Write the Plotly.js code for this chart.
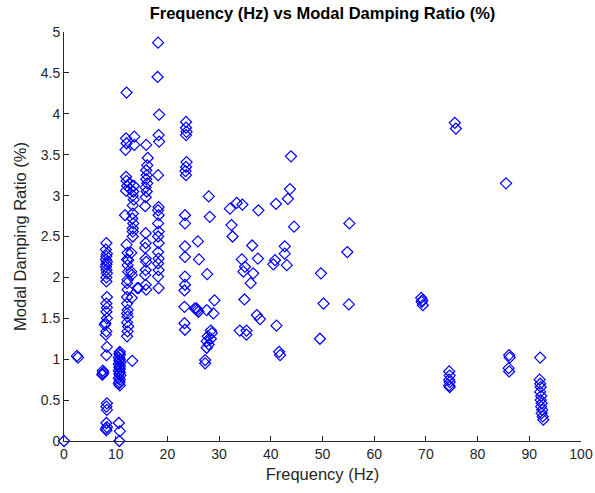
<!DOCTYPE html>
<html>
<head>
<meta charset="utf-8">
<script src="https://cdn.plot.ly/plotly-3.0.1.min.js"></script>
<style>html,body{margin:0;padding:0;background:#fff;}#chart{width:595px;height:493px;}</style>
</head>
<body>
<div id="chart"></div>
<script>
// Frequency (Hz)
const frequency = [
  0,
  2.5, 2.7,
  8.2, 8.1, 8.3, 8.2, 8.1, 8.3, 8.2, 8.1, 8.2, 8.3, 8.2, 8.2, 8.3, 8.2, 8.3, 8.2, 8.3, 8.0, 7.9, 8.2, 8.1, 8.3, 8.2, 7.5, 7.6, 7.5, 7.4, 8.3, 8.2, 8.3, 8.2, 8.3, 8.1, 8.2,
  10.8, 10.7, 10.8, 10.6, 10.8, 10.7, 10.9, 10.6, 10.8, 10.7, 10.8, 10.6, 10.8, 10.7, 10.9, 10.6, 10.8, 10.7, 10.6, 10.8, 10.6, 10.8, 10.7,
  12.1, 12.0, 12.1, 11.9, 12.0, 12.1, 12.2, 12.0, 11.8, 12.1, 12.3, 12.2, 12.3, 12.4, 12.4, 12.3, 12.2, 12.3, 12.2, 12.2, 12.3, 12.2, 12.3, 12.2, 12.4, 12.3, 12.2,
  13.6, 13.6, 12.7, 12.8, 13.5, 13.4, 13.3, 13.5, 13.3, 13.3, 13.2, 13.4, 13.3, 13.3, 13.3, 13.0, 13.0, 13.1, 13.1, 13.2,
  14.4, 14.2,
  15.9, 16.2, 16.1, 15.9, 16.0, 15.9, 16.1, 15.8, 16.0, 15.8, 15.7, 15.8, 15.8, 15.7, 15.8, 15.9, 15.8, 15.7, 15.8, 15.9,
  18.2, 18.1, 18.4, 18.3, 18.4, 18.2, 18.3, 18.2, 18.3, 18.2, 18.3, 18.2, 18.3, 18.2, 18.3, 18.2, 18.3, 18.2, 18.3,
  23.6, 23.6, 23.7, 23.6, 23.7, 23.6, 23.5, 23.6, 23.4, 23.4, 23.4, 23.4, 23.4, 23.4, 23.3, 23.3, 23.3, 23.4,
  25.9, 26.1, 25.3, 25.6, 25.8, 26.0,
  28.0, 28.2, 27.7, 29.1, 27.6, 28.9, 28.4, 28.6, 27.8, 28.4, 27.6, 28.0, 27.6, 27.3, 27.3,
  32.1, 33.4, 34.5, 37.6, 32.4, 32.6, 36.4, 37.5, 34.4, 35.0, 34.7, 36.6, 36.1, 34.9, 37.3, 37.9, 34.0, 35.3, 35.3,
  41.0, 40.8, 40.5, 42.7, 42.7, 43.1, 43.9, 43.7, 43.3, 44.5, 41.1, 41.6, 41.8,
  49.7, 50.2, 49.5,
  55.2, 54.8, 55.1,
  69.1, 69.3, 69.2, 69.4,
  74.5, 74.6, 74.5, 74.6, 74.5, 74.6,
  75.6, 75.8,
  85.5,
  86.1, 86.2, 86.0, 86.1,
  92.1, 92.0, 92.1, 92.2, 92.1, 92.3, 92.2, 92.4, 92.3, 92.5, 92.4, 92.6, 92.7
];
// Modal damping ratio (%)
const damping = [
  0,
  1.04, 1.02,
  2.42, 2.34, 2.29, 2.26, 2.22, 2.19, 2.16, 2.13, 2.09, 2.05, 2.00, 1.95, 1.76, 1.68, 1.63, 1.58, 1.50, 1.44, 1.42, 1.34, 1.30, 1.15, 1.05, 0.86, 0.84, 0.82, 0.81, 0.46, 0.42, 0.38, 0.22, 0.17, 0.15, 0.13,
  1.09, 1.07, 1.05, 1.02, 1.00, 0.98, 0.96, 0.94, 0.92, 0.90, 0.88, 0.86, 0.84, 0.82, 0.80, 0.77, 0.75, 0.72, 0.70, 0.68, 0.22, 0.12, 0.00,
  4.26, 3.70, 3.64, 3.56, 3.23, 3.18, 3.12, 3.06, 2.76, 2.40, 2.30, 2.22, 2.15, 2.21, 2.07, 1.97, 1.93, 1.85, 1.76, 1.68, 1.60, 1.56, 1.52, 1.45, 1.40, 1.34, 1.28,
  3.72, 3.62, 3.15, 3.08, 3.12, 3.05, 3.00, 2.95, 2.88, 2.78, 2.72, 2.66, 2.60, 2.56, 2.50, 2.30, 2.07, 2.03, 1.75, 0.98,
  1.87, 1.87,
  3.62, 3.46, 3.37, 3.31, 3.25, 3.20, 3.15, 3.10, 3.05, 2.98, 2.87, 2.54, 2.42, 2.36, 2.23, 2.19, 2.09, 2.03, 1.91, 1.85,
  4.87, 4.45, 3.99, 3.74, 3.66, 3.25, 2.86, 2.82, 2.76, 2.66, 2.56, 2.50, 2.42, 2.31, 2.23, 2.17, 2.09, 2.01, 1.87,
  3.90, 3.83, 3.78, 3.74, 3.41, 3.35, 3.30, 3.25, 2.76, 2.66, 2.38, 2.25, 2.01, 1.91, 1.84, 1.64, 1.44, 1.36,
  2.44, 2.22, 1.62, 1.62, 1.60, 1.58,
  2.99, 2.74, 2.04, 1.72, 1.60, 1.56, 1.35, 1.32, 1.28, 1.25, 1.22, 1.18, 1.14, 0.99, 0.95,
  2.84, 2.91, 2.89, 2.82, 2.64, 2.50, 2.39, 2.23, 2.22, 2.13, 2.07, 2.05, 1.93, 1.73, 1.54, 1.49, 1.35, 1.35, 1.30,
  2.90, 2.21, 2.16, 2.38, 2.29, 2.15, 3.48, 3.08, 2.96, 2.62, 1.41, 1.09, 1.05,
  2.05, 1.68, 1.25,
  2.66, 2.31, 1.67,
  1.75, 1.72, 1.70, 1.66,
  0.85, 0.80, 0.75, 0.72, 0.68, 0.66,
  3.89, 3.82,
  3.15,
  1.05, 1.02, 0.89, 0.85,
  1.02, 0.75, 0.70, 0.66, 0.60, 0.55, 0.50, 0.46, 0.42, 0.38, 0.34, 0.30, 0.26
];
const xTicks = [0, 10, 20, 30, 40, 50, 60, 70, 80, 90, 100];
const yTicks = [0, 0.5, 1, 1.5, 2, 2.5, 3, 3.5, 4, 4.5, 5];

const axisColor = '#262626';
const fontFam = 'Liberation Sans, Arial, Helvetica, sans-serif';

Plotly.newPlot('chart', [{
  x: frequency,
  y: damping,
  type: 'scatter',
  mode: 'markers',
  cliponaxis: false,
  marker: {symbol: 'diamond-open', size: 8.5, color: '#0000FF', line: {width: 1.2, color: '#0000FF'}},
  hoverinfo: 'x+y'
}], {
  width: 595, height: 493,
  margin: {l: 64, r: 14, t: 32, b: 52},
  paper_bgcolor: '#fff', plot_bgcolor: '#fff',
  showlegend: false,
  font: {family: fontFam, color: axisColor, size: 14},
  title: {text: '<b>Frequency (Hz) vs Modal Damping Ratio (%)</b>', x: 0.5, xanchor: 'center', xref: 'paper', y: 0.985, yanchor: 'top', font: {size: 16.5, color: '#000', family: fontFam}},
  xaxis: {
    range: [0, 100], tickvals: xTicks, ticktext: xTicks.map(String),
    showline: true, linecolor: axisColor, linewidth: 1, mirror: false,
    ticks: 'inside', ticklen: 5, tickcolor: axisColor,
    showgrid: false, zeroline: false,
    tickfont: {size: 14, color: axisColor},
    title: {text: 'Frequency (Hz)', standoff: 7, font: {size: 16.5, color: axisColor}}
  },
  yaxis: {
    range: [0, 5], tickvals: yTicks, ticktext: yTicks.map(String),
    showline: true, linecolor: axisColor, linewidth: 1, mirror: false,
    ticks: 'inside', ticklen: 5, tickcolor: axisColor,
    showgrid: false, zeroline: false,
    tickfont: {size: 14, color: axisColor},
    title: {text: 'Modal Damping Ratio (%)', standoff: 9, font: {size: 16.5, color: axisColor}}
  }
}, {displayModeBar: false, staticPlot: true});
</script>
</body>
</html>
